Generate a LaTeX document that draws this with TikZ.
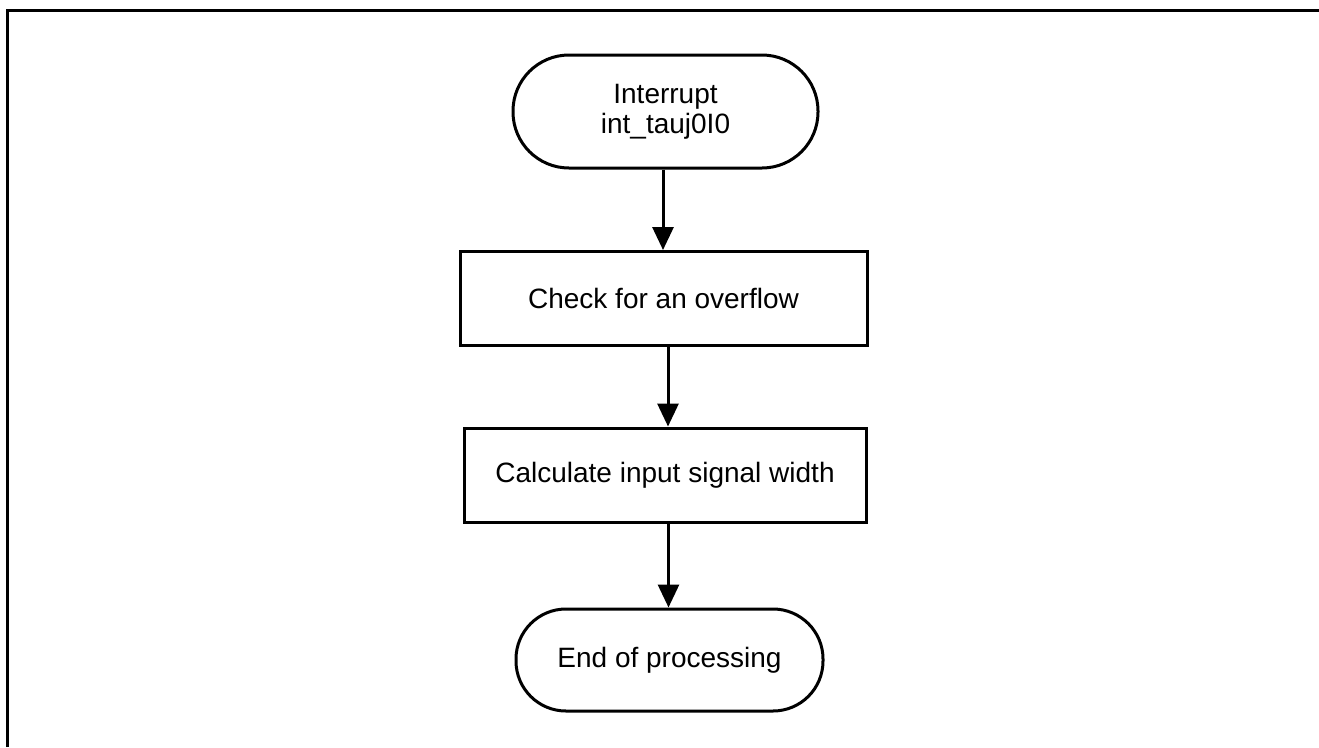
\documentclass[tikz,border=0pt]{standalone}
\usepackage{fontspec}
\setmainfont{Liberation Sans}
\usetikzlibrary{arrows.meta}

\tikzset{
  terminal/.style={draw, line width=3pt,
    minimum width=305pt, align=center, inner sep=0pt,
    font=\fontsize{28}{31}\selectfont},
  process/.style={draw, line width=3pt, minimum height=94pt,
    align=center, inner sep=0pt, font=\fontsize{28}{31}\selectfont},
  flow/.style={line width=3pt, -{Triangle[width=21pt,length=23pt]}},
  frame/.style={line width=3pt}
}

\begin{document}
\begin{tikzpicture}[x=1pt, y=-1pt]
  \useasboundingbox (0,0) rectangle (1319,747);

  % page frame (top and left edges)
  \coordinate (fbl) at (7,747);
  \coordinate (ftl) at (7,10);
  \coordinate (ftr) at (1319,10);
  \draw[frame] (fbl) -- (ftl) -- (ftr);

  % flowchart steps
  \node[terminal, minimum height=113pt, rounded corners=56pt] (start) at (665.5,111.5)
    {\raisebox{4pt}{\shortstack{Interrupt\\[1pt]int\_tauj0I0}}};
  \node[process, minimum width=407pt] (check) at (663.5,298.5)
    {Check for an overflow};
  \node[process, minimum width=402pt] (calc) at (665,475)
    {Calculate input signal width};
  \node[terminal, minimum height=102pt, minimum width=307pt, rounded corners=50pt] (stop) at (669.5,660)
    {End of processing};

  % connectors
  \draw[flow] ([xshift=-2.5pt]start.south) -- ([xshift=-0.5pt]check.north);
  \draw[flow] ([xshift=4.5pt]check.south) -- ([xshift=3pt]calc.north);
  \draw[flow] ([xshift=3.5pt]calc.south) -- ([xshift=-1pt]stop.north);
\end{tikzpicture}
\end{document}
